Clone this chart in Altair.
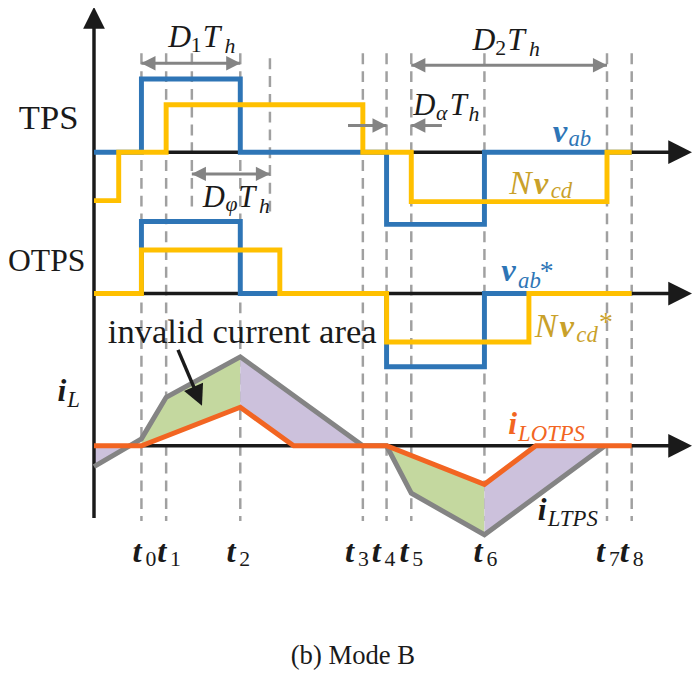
import altair as alt
import pandas as pd

# ---------------- data (horizontal = time units, vertical = level units, downward) -------------
t_names = ["0", "1", "2", "3", "4", "5", "6", "7", "8"]
t_pos = [143, 168, 243, 367, 391, 416, 490, 614, 639]
t_label_x = [134, 159, 229, 349, 376, 404, 479, 603, 627]
aux_pos = [194, 273]            # D_phi*T_h markers

# TPS waveforms
tps_vab_x = [95, 143, 143, 243, 243, 391, 391, 490, 490, 639]
tps_vab_y = [150, 150, 76, 76, 150, 150, 223, 223, 150, 150]
tps_nvcd_x = [95, 120, 120, 168, 168, 367, 367, 416, 416, 614, 614, 639]
tps_nvcd_y = [199, 199, 150, 150, 102, 102, 150, 150, 200, 200, 150, 150]
# OTPS waveforms
otps_vab_x = [95, 143, 143, 243, 243, 391, 391, 490, 490, 639]
otps_vab_y = [293, 293, 220, 220, 293, 293, 367, 367, 293, 293]
otps_nvcd_x = [95, 143, 143, 283, 283, 391, 391, 535, 535, 639]
otps_nvcd_y = [293, 293, 249, 249, 293, 293, 342, 342, 293, 293]
# inductor currents
il_tps_x = [95, 143, 168, 243, 367, 391, 416, 490, 612]
il_tps_y = [468, 440, 398, 357, 447, 447, 495, 537, 447]
il_otps_x = [95, 143, 243, 297, 391, 490, 542, 639]
il_otps_y = [447, 447, 408, 447, 447, 486, 447, 447]

# shaded regions between the two currents
fill_id = ["p1", "p1", "g1", "g1", "g1", "p2", "p2", "p2", "g2", "g2", "g2", "p3", "p3", "p3"]
fill_x = [95, 131, 143, 168, 243, 243, 297, 367, 391, 416, 490, 490, 542, 612]
fill_top = [468, 447, 440, 398, 357, 357, 396, 447, 447, 495, 537, 537, 499, 447]
fill_bot = [447, 447, 447, 437, 408, 408, 447, 447, 447, 457, 486, 486, 447, 447]
GREEN, PURPLE = "#c4d89f", "#ccc1dc"
fill_col = {"p1": PURPLE, "g1": GREEN, "p2": PURPLE, "g2": GREEN, "p3": PURPLE}

# axes
zero_levels = [150, 293, 447]
axis_x0, axis_x1 = 95, 678
vaxis_top, vaxis_bot = 24, 520

BLUE, YELLOW, ORANGE, GREY = "#2e75b6", "#ffc000", "#f26522", "#848484"
GOLD, BLACK = "#c9a12a", "#1a1a1a"

# dimension arrows: (x_from, x_to, y, heads)
dim_arrows = [
    (143, 243, 60, "both"),
    (194, 273, 172, "both"),
    (416, 614, 62, "both"),
    (352, 391, 123, "right"),
    (416, 447, 123, "left"),
]

# text pieces: (text, x, y, size, color, style)  style: up / it / bi
labels = [
    ("TPS", 19, 127, 35, BLACK, "up"),
    ("OTPS", 8, 270, 32, BLACK, "up"),
    ("invalid current area", 109, 343, 35, BLACK, "up"),
    ("(b) Mode B", 294, 668, 27, BLACK, "up"),
    # D1 Th
    ("D", 170, 44, 32, BLACK, "it"), ("1", 193, 49, 22, BLACK, "up"),
    ("T", 205, 44, 32, BLACK, "it"), ("h", 227, 50, 22, BLACK, "it"),
    # D2 Th
    ("D", 478, 47, 32, BLACK, "it"), ("2", 501, 52, 22, BLACK, "up"),
    ("T", 513, 47, 32, BLACK, "it"), ("h", 535, 53, 22, BLACK, "it"),
    # Dalpha Th
    ("D", 418, 112, 31, BLACK, "it"), ("α", 441, 117, 22, BLACK, "it"),
    ("T", 455, 112, 31, BLACK, "it"), ("h", 474, 118, 22, BLACK, "it"),
    # Dphi Th
    ("D", 205, 205, 31, BLACK, "it"), ("φ", 228, 209, 22, BLACK, "it"),
    ("T", 241, 205, 31, BLACK, "it"), ("h", 262, 211, 22, BLACK, "it"),
    # v_ab, Nv_cd
    ("v", 559, 140, 33, BLUE, "bi"), ("ab", 575, 144, 23, BLUE, "it"),
    ("N", 515, 192, 34, GOLD, "it"), ("v", 540, 192, 33, GOLD, "bi"), ("cd", 557, 196, 23, GOLD, "it"),
    # v_ab*, Nv_cd*
    ("v", 507, 280, 33, BLUE, "bi"), ("ab", 524, 287, 23, BLUE, "it"), ("*", 546, 279, 28, BLUE, "up"),
    ("N", 541, 337, 34, GOLD, "it"), ("v", 566, 337, 33, GOLD, "bi"), ("cd", 583, 342, 23, GOLD, "it"),
    ("*", 606, 331, 28, GOLD, "up"),
    # currents
    ("i", 58, 402, 32, BLACK, "bi"), ("L", 68, 408, 23, BLACK, "it"),
    ("i", 514, 435, 32, ORANGE, "bi"), ("LOTPS", 524, 442, 23, ORANGE, "it"),
    ("i", 544, 522, 32, BLACK, "bi"), ("LTPS", 554, 528, 23, BLACK, "it"),
]
for name, lx in zip(t_names, t_label_x):
    labels.append(("t", lx, 565, 33, BLACK, "bi"))
    labels.append((name, lx + 13, 569, 22, BLACK, "up"))

# invalid-area pointer: (x_from, y_from, x_to, y_to)
pointer = (180, 350, 200, 397)

# ---------------- chart -----------------
W, H = 692, 667
xs = alt.Scale(domain=[8, 700], nice=False, zero=False)
ys = alt.Scale(domain=[8, 675], nice=False, zero=False, reverse=True)
X = lambda f: alt.X(f, type="quantitative", scale=xs, axis=None)
Y = lambda f: alt.Y(f, type="quantitative", scale=ys, axis=None)

layers = []

# dashed time markers
dash_df = pd.DataFrame({
    "x": t_pos + aux_pos,
    "y1": [50] * len(t_pos) + [50, 55],
    "y2": [523] * len(t_pos) + [205, 210],
})
layers.append(alt.Chart(dash_df).mark_rule(color="#a0a0a0", strokeWidth=2.5, strokeDash=[11, 7])
              .encode(x=X("x"), y=Y("y1"), y2="y2"))

# shaded areas
fill_df = pd.DataFrame({"id": fill_id, "x": fill_x, "top": fill_top, "bot": fill_bot})
fill_df["col"] = fill_df["id"].map(fill_col)
layers.append(alt.Chart(fill_df).mark_area(opacity=1, interpolate="linear")
              .encode(x=X("x"), y=Y("top"), y2="bot", detail="id:N",
                      color=alt.Color("col:N", scale=None)))

# axes
ax_df = pd.DataFrame({"y": zero_levels, "x1": [axis_x0] * 3, "x2": [axis_x1] * 3})
layers.append(alt.Chart(ax_df).mark_rule(color=BLACK, strokeWidth=3.5)
              .encode(x=X("x1"), x2="x2", y=Y("y")))
layers.append(alt.Chart(pd.DataFrame({"x": [95], "y1": [vaxis_top], "y2": [vaxis_bot]}))
              .mark_rule(color=BLACK, strokeWidth=3.5).encode(x=X("x"), y=Y("y1"), y2="y2"))
layers.append(alt.Chart(pd.DataFrame({"x": [axis_x1 + 10] * 3, "y": zero_levels}))
              .mark_point(shape="M-1,-1L1,0L-1,1Z", filled=True, size=576, opacity=1,
                          color=BLACK, strokeWidth=0).encode(x=X("x"), y=Y("y")))
layers.append(alt.Chart(pd.DataFrame({"x": [95], "y": [vaxis_top - 10]}))
              .mark_point(shape="M-1,1L0,-1L1,1Z", filled=True, size=484, opacity=1,
                          color=BLACK, strokeWidth=0).encode(x=X("x"), y=Y("y")))


def wave(xv, yv, color, width=5):
    df = pd.DataFrame({"x": xv, "y": yv, "o": list(range(len(xv)))})
    return (alt.Chart(df).mark_line(color=color, strokeWidth=width, strokeJoin="miter",
                                    strokeCap="butt", interpolate="linear")
            .encode(x=X("x"), y=Y("y"), order="o:Q"))


layers += [
    wave(tps_vab_x, tps_vab_y, BLUE),
    wave(tps_nvcd_x, tps_nvcd_y, YELLOW),
    wave(otps_vab_x, otps_vab_y, BLUE),
    wave(otps_nvcd_x, otps_nvcd_y, YELLOW),
    wave(il_tps_x, il_tps_y, GREY),
    wave(il_otps_x, il_otps_y, ORANGE),
]

# dimension arrows
shaft_rows, rhead, lhead = [], [], []
for x0, x1, y, heads in dim_arrows:
    shaft_rows.append({"x1": x0, "x2": x1, "y": y})
    if heads in ("both", "right"):
        rhead.append({"x": x1 - 7, "y": y})
    if heads in ("both", "left"):
        lhead.append({"x": x0 + 7, "y": y})
layers.append(alt.Chart(pd.DataFrame(shaft_rows)).mark_rule(color=GREY, strokeWidth=3)
              .encode(x=X("x1"), x2="x2", y=Y("y")))
layers.append(alt.Chart(pd.DataFrame(rhead)).mark_point(shape="M-1,-1L1,0L-1,1Z", filled=True, size=210,
                                                         opacity=1, color=GREY, strokeWidth=0)
              .encode(x=X("x"), y=Y("y")))
layers.append(alt.Chart(pd.DataFrame(lhead)).mark_point(shape="M1,-1L-1,0L1,1Z", filled=True, size=210,
                                                         opacity=1, color=GREY, strokeWidth=0)
              .encode(x=X("x"), y=Y("y")))

# pointer arrow
px0, py0, px1, py1 = pointer
layers.append(alt.Chart(pd.DataFrame({"x1": [px0], "y1": [py0], "x2": [px1], "y2": [py1]}))
              .mark_rule(color=BLACK, strokeWidth=3.5)
              .encode(x=X("x1"), y=Y("y1"), x2="x2", y2="y2"))
layers.append(alt.Chart(pd.DataFrame({"x": [px1], "y": [py1]}))
              .mark_point(shape="M-1,-1L1,-1L0,1Z", filled=True, size=440, angle=336, opacity=1,
                          color=BLACK, strokeWidth=0)
              .encode(x=X("x"), y=Y("y")))

# texts
lab_df = pd.DataFrame(labels, columns=["text", "x", "y", "size", "color", "style"])
for style, fs, fw in [("up", "normal", "normal"), ("it", "italic", "normal"), ("bi", "italic", "bold")]:
    sub = lab_df[lab_df["style"] == style]
    layers.append(alt.Chart(sub).mark_text(align="left", baseline="alphabetic",
                                           font="Liberation Serif, Times New Roman, serif",
                                           fontStyle=fs, fontWeight=fw)
                  .encode(x=X("x"), y=Y("y"), text="text:N",
                          size=alt.Size("size:Q", scale=None),
                          color=alt.Color("color:N", scale=None)))

chart = (alt.layer(*layers)
         .properties(width=W, height=H, padding=0, autosize=alt.AutoSizeParams(type="none"))
         .configure_view(stroke=None))

chart.save("out.html", embed_options={"renderer": "svg", "actions": False})
